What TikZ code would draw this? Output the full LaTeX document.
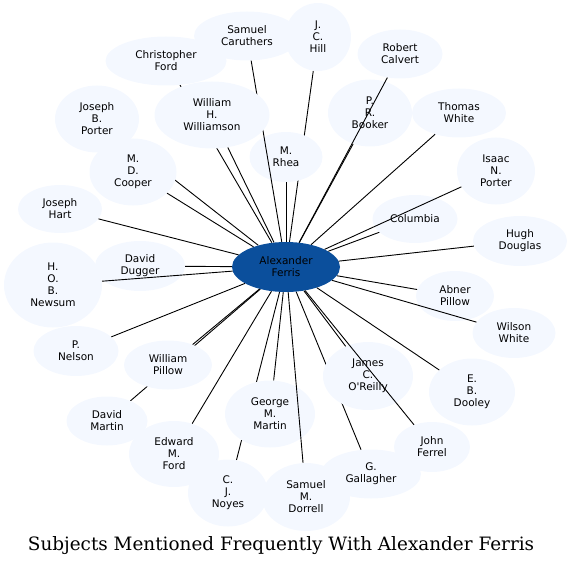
\documentclass[tikz,border=0pt]{standalone}
\usepackage{fontspec}
\newfontfamily\nodefont{DejaVu Sans}
\newfontfamily\titlefont{DejaVu Serif}
\usetikzlibrary{shapes.geometric}
\pgfdeclarelayer{hidden}
\pgfdeclarelayer{edges}
\pgfdeclarelayer{top}
\pgfsetlayers{hidden,main,edges,top}
\definecolor{nodefill}{HTML}{F4F8FF}
\definecolor{centerfill}{HTML}{0B4F9C}
\tikzset{
  person/.style={ellipse, fill=nodefill, inner sep=0pt, align=center,
    font={\nodefont\fontsize{10.5}{12}\selectfont}},
  hub/.style={person, fill=centerfill},
  link/.style={black, line width=0.9pt},
}
\newcommand{\pnode}[6]{\node[person, minimum width=#4pt, minimum height=#5pt] (#1) at (#2,#3) {#6};}
\begin{document}
\begin{tikzpicture}[x=1pt,y=-1pt]
\useasboundingbox (0,0) rectangle (573,567);
\node[hub, minimum width=108pt, minimum height=50pt] (fer) at (286,267) {Alexander\\Ferris};
\pnode{sca}{247}{36}{106}{49}{Samuel\\Caruthers}
\pnode{jch}{318}{37}{66}{68}{J.\\C.\\Hill}
\pnode{rca}{400}{54}{85}{49}{Robert\\Calvert}
\pnode{cfo}{166}{61}{121}{49}{Christopher\\Ford}
\pnode{jbp}{97}{119}{84}{67}{Joseph\\B.\\Porter}
\pnode{rhe}{286}{157}{73}{50}{M.\\Rhea}
\pnode{prb}{370}{113}{84}{67}{P.\\R.\\Booker}
\pnode{twh}{459}{113}{94}{49}{Thomas\\White}
\pnode{inp}{496}{171}{78}{67}{Isaac\\N.\\Porter}
\pnode{mdc}{133}{172}{87}{67}{M.\\D.\\Cooper}
\pnode{jha}{60}{209}{84}{48}{Joseph\\Hart}
\pnode{col}{415}{219}{85}{48}{Columbia}
\pnode{hdo}{520}{241}{94}{50}{Hugh\\Douglas}
\pnode{ddu}{140}{266}{90}{50}{David\\Dugger}
\pnode{hob}{53}{285}{98}{85}{H.\\O.\\B.\\Newsum}
\pnode{apl}{455}{296}{78}{50}{Abner\\Pillow}
\pnode{wwh}{514}{333}{83}{50}{Wilson\\White}
\pnode{pne}{76}{351}{85}{50}{P.\\Nelson}
\pnode{wpi}{168}{365}{88}{49}{William\\Pillow}
\pnode{jco}{368}{376}{90}{68}{James\\C.\\O'Reilly}
\pnode{ebd}{472}{392}{86}{67}{E.\\B.\\Dooley}
\pnode{dma}{107}{421}{81}{49}{David\\Martin}
\pnode{emf}{174}{454}{90}{66}{Edward\\M.\\Ford}
\pnode{gmm}{270}{414}{90}{67}{George\\M.\\Martin}
\pnode{cjn}{228}{493}{80}{67}{C.\\J.\\Noyes}
\pnode{gga}{371}{474}{100}{49}{G.\\Gallagher}
\pnode{smd}{306}{497}{88}{68}{Samuel\\M.\\Dorrell}
\pnode{jfe}{432}{447}{76}{50}{John\\Ferrel}
\begin{pgfonlayer}{top}
\pnode{wil}{212}{115}{115}{67}{William\\H.\\Williamson}
\end{pgfonlayer}
\begin{pgfonlayer}{hidden}
\foreach \t in {cfo,jch,jbp,gga,cjn,dma}
  \draw[link] (fer) -- (\t);
\end{pgfonlayer}
\begin{pgfonlayer}{edges}
\foreach \t in {sca,rca,wil,rhe,prb,twh,inp,mdc,jha,col,hdo,ddu,hob,apl,wwh,pne,wpi,jco,ebd,emf,gmm,smd,jfe}
  \draw[link] (fer) -- (\t);
\end{pgfonlayer}
\node[inner sep=0pt, anchor=base] (title) at (281,550) {\titlefont\fontsize{18.4}{22}\selectfont Subjects Mentioned Frequently With Alexander Ferris};
\end{tikzpicture}
\end{document}
